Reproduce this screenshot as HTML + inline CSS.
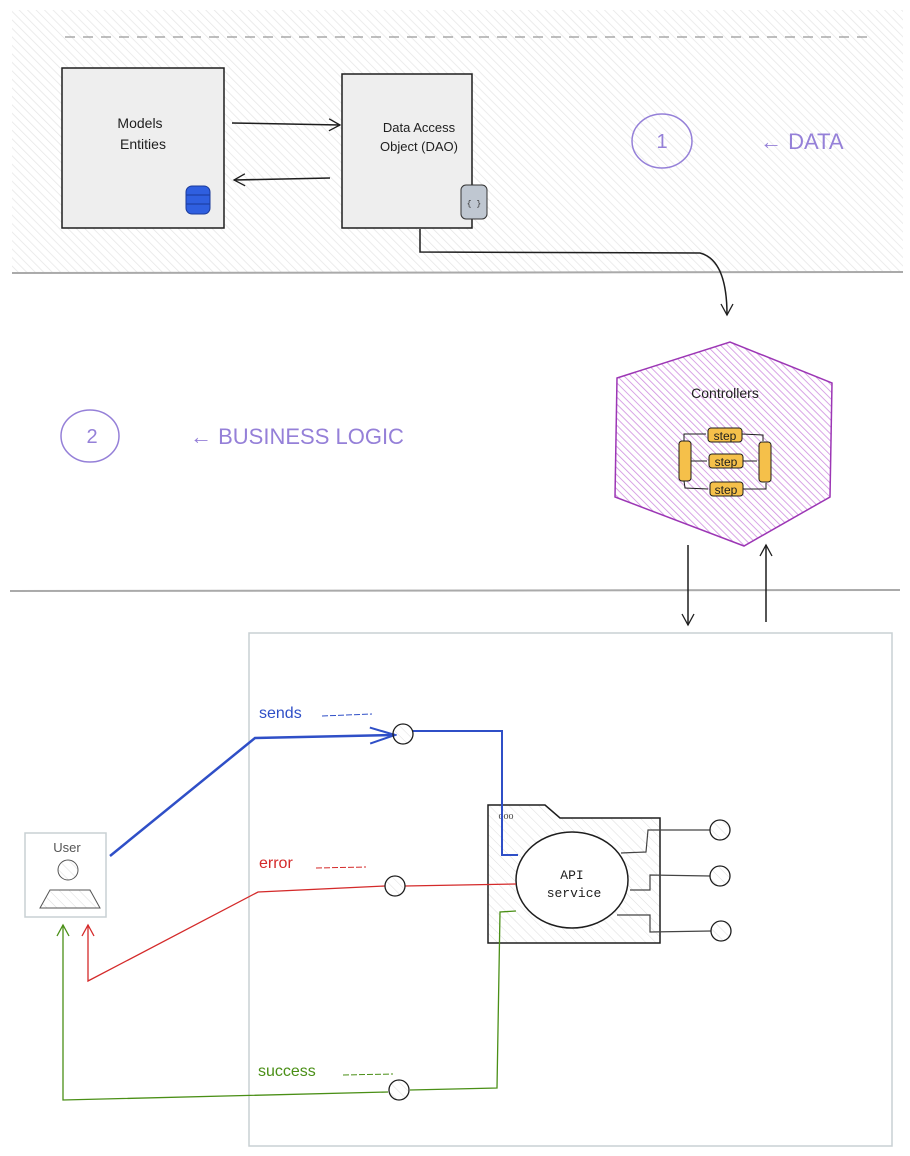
<!DOCTYPE html>
<html><head><meta charset="utf-8"><style>
html,body{margin:0;padding:0;background:#fff}
svg{display:block}
.h{font-family:"Comic Sans MS","Liberation Sans",sans-serif}
</style></head><body>
<svg width="910" height="1156" viewBox="0 0 910 1156" xmlns="http://www.w3.org/2000/svg">
<defs>
<pattern id="hg" width="6" height="6" patternUnits="userSpaceOnUse" patternTransform="rotate(-45)"><line x1="0" y1="0" x2="0" y2="6" stroke="#e6e6e6" stroke-width="1.5"/></pattern>
<pattern id="hp" width="5" height="5" patternUnits="userSpaceOnUse" patternTransform="rotate(-45)"><line x1="0" y1="0" x2="0" y2="5" stroke="#cf8ee0" stroke-width="1.6"/></pattern>
<pattern id="hl" width="7" height="7" patternUnits="userSpaceOnUse" patternTransform="rotate(-45)"><line x1="0" y1="0" x2="0" y2="7" stroke="#ddd" stroke-width="1"/></pattern>
<marker id="a" markerWidth="14" markerHeight="14" refX="12" refY="7" orient="auto" markerUnits="userSpaceOnUse"><path d="M1,1 L12,7 L1,13" fill="none" stroke="#1e1e1e" stroke-width="1.3"/></marker>
<marker id="ab" markerWidth="28" markerHeight="20" refX="26" refY="10" orient="auto" markerUnits="userSpaceOnUse"><path d="M1,2 L26,10 L1,18" fill="none" stroke="#2f4fc7" stroke-width="2"/></marker>
<marker id="ar" markerWidth="14" markerHeight="14" refX="12" refY="7" orient="auto" markerUnits="userSpaceOnUse"><path d="M1,1 L12,7 L1,13" fill="none" stroke="#d42a2a" stroke-width="1.3"/></marker>
<marker id="ag" markerWidth="14" markerHeight="14" refX="12" refY="7" orient="auto" markerUnits="userSpaceOnUse"><path d="M1,1 L12,7 L1,13" fill="none" stroke="#4a8f16" stroke-width="1.3"/></marker>
</defs>
<rect x="12" y="10" width="891" height="263" fill="url(#hg)"/>
<line x1="65" y1="37" x2="875" y2="37" stroke="#999" stroke-dasharray="10,8" stroke-width="1.2"/>
<line x1="12" y1="273" x2="903" y2="272" stroke="#aaa" stroke-width="2"/>
<line x1="10" y1="591" x2="900" y2="590" stroke="#aaa" stroke-width="2"/>
<rect x="62" y="68" width="162" height="160" fill="#eee" stroke="#1e1e1e" stroke-width="1.5"/>
<text class="h" x="140" y="128" font-size="14" text-anchor="middle" fill="#1e1e1e">Models</text>
<text class="h" x="143" y="149" font-size="14" text-anchor="middle" fill="#1e1e1e">Entities</text>
<g fill="#2f5fe0" stroke="#1a3a9a"><rect x="186" y="186" width="24" height="28" rx="6"/><line x1="186" y1="195" x2="210" y2="195"/><line x1="186" y1="204" x2="210" y2="204"/></g>
<rect x="342" y="74" width="130" height="154" fill="#eee" stroke="#1e1e1e" stroke-width="1.5"/>
<text class="h" x="419" y="132" font-size="13" text-anchor="middle" fill="#1e1e1e">Data Access</text>
<text class="h" x="419" y="151" font-size="13" text-anchor="middle" fill="#1e1e1e">Object (DAO)</text>
<rect x="461" y="185" width="26" height="34" rx="5" fill="#bfc7d1" stroke="#333"/><text x="474" y="206" font-size="8" text-anchor="middle" fill="#333" font-family="Liberation Mono">{ }</text>
<path d="M232,123 L340,125" stroke="#1e1e1e" stroke-width="1.5" fill="none" marker-end="url(#a)"/>
<path d="M330,178 L234,180" stroke="#1e1e1e" stroke-width="1.5" fill="none" marker-end="url(#a)"/>
<path d="M420,229 L420,252 L700,253 Q727,260 727,315" stroke="#1e1e1e" stroke-width="1.5" fill="none" marker-end="url(#a)"/>
<ellipse cx="662" cy="141" rx="30" ry="27" fill="none" stroke="#9580d8" stroke-width="1.5"/>
<text class="h" x="662" y="148" font-size="20" text-anchor="middle" fill="#9580d8">1</text>
<text class="h" x="760" y="149" font-size="22" fill="#9580d8">← DATA</text>
<ellipse cx="90" cy="436" rx="29" ry="26" fill="none" stroke="#9580d8" stroke-width="1.5"/>
<text class="h" x="92" y="443" font-size="20" text-anchor="middle" fill="#9580d8">2</text>
<text class="h" x="190" y="444" font-size="22" fill="#9580d8">← BUSINESS LOGIC</text>
<polygon points="617,378 730,342 832,383 830,497 744,546 615,497" fill="url(#hp)" stroke="#9c36b5" stroke-width="1.5"/>
<text class="h" x="725" y="398" font-size="14" text-anchor="middle" fill="#1e1e1e">Controllers</text>
<g stroke="#1e1e1e" stroke-width="1" fill="#f5c04a">
<rect x="708" y="428" width="34" height="14" rx="3"/><rect x="709" y="454" width="34" height="14" rx="3"/><rect x="710" y="482" width="33" height="14" rx="3"/>
<rect x="679" y="441" width="12" height="40" rx="3"/><rect x="759" y="442" width="12" height="40" rx="3"/>
</g>
<g font-size="12" fill="#1e1e1e" class="h" text-anchor="middle"><text x="725" y="440">step</text><text x="726" y="466">step</text><text x="726" y="494">step</text></g>
<g stroke="#1e1e1e" fill="none" stroke-width="1"><path d="M684,441 L684,434 L706,434"/><path d="M691,461 L707,461"/><path d="M684,481 L685,488 L708,489"/><path d="M742,434 L763,435 L763,441"/><path d="M743,461 L757,461"/><path d="M743,489 L766,489 L766,483"/></g>
<line x1="688" y1="545" x2="688" y2="625" stroke="#1e1e1e" stroke-width="1.5" marker-end="url(#a)"/>
<line x1="766" y1="622" x2="766" y2="545" stroke="#1e1e1e" stroke-width="1.5" marker-end="url(#a)"/>
<rect x="249" y="633" width="643" height="513" fill="none" stroke="#c8d0d4" stroke-width="1.5"/>
<rect x="25" y="833" width="81" height="84" fill="none" stroke="#c8d0d4" stroke-width="1.5"/>
<text class="h" x="67" y="852" font-size="13" text-anchor="middle" fill="#555">User</text>
<circle cx="68" cy="870" r="10" fill="url(#hl)" stroke="#555"/>
<path d="M50,890 L90,890 L100,908 L40,908 Z" fill="url(#hl)" stroke="#555"/>
<path d="M488,805 L545,805 L560,818 L660,818 L660,943 L488,943 Z" fill="url(#hl)" stroke="#1e1e1e" stroke-width="1.5"/>
<text x="506" y="819" font-size="10" text-anchor="middle" fill="#444">ooo</text>
<ellipse cx="572" cy="880" rx="56" ry="48" fill="#fff" stroke="#1e1e1e" stroke-width="1.5"/>
<text x="572" y="879" font-size="13" text-anchor="middle" font-family="Liberation Mono" fill="#1e1e1e">API</text>
<text x="574" y="897" font-size="13" text-anchor="middle" font-family="Liberation Mono" fill="#1e1e1e">service</text>
<g stroke="#444" fill="none" stroke-width="1.2">
<path d="M621,853 L646,852 L648,830 L710,830"/><path d="M630,890 L650,890 L650,875 L710,876"/><path d="M617,915 L650,915 L650,932 L711,931"/></g>
<g fill="url(#hl)" stroke="#1e1e1e" stroke-width="1.3"><circle cx="720" cy="830" r="10"/><circle cx="720" cy="876" r="10"/><circle cx="721" cy="931" r="10"/></g>
<path d="M110,856 L255,738 L395,735" stroke="#2f4fc7" stroke-width="2.5" fill="none" marker-end="url(#ab)"/>
<path d="M413,731 L502,731 L502,855 L518,855" stroke="#2f4fc7" stroke-width="2" fill="none"/>
<text class="h" x="259" y="718" font-size="16" fill="#2f4fc7">sends</text>
<path d="M322,716 L372,714" stroke="#2f4fc7" stroke-dasharray="6,2"/>
<path d="M405,886 L516,884" stroke="#d42a2a" stroke-width="1.3"/>
<path d="M385,886 L258,892 L88,981 L88,925" stroke="#d42a2a" stroke-width="1.3" fill="none" marker-end="url(#ar)"/>
<text class="h" x="259" y="868" font-size="16" fill="#d42a2a">error</text>
<path d="M316,868 L366,867" stroke="#d42a2a" stroke-dasharray="6,2"/>
<path d="M410,1090 L497,1088 L500,912 L516,911" stroke="#4a8f16" stroke-width="1.3" fill="none"/>
<path d="M388,1092 L63,1100 L63,925" stroke="#4a8f16" stroke-width="1.3" fill="none" marker-end="url(#ag)"/>
<text class="h" x="258" y="1076" font-size="16" fill="#4a8f16">success</text>
<path d="M343,1075 L393,1074" stroke="#4a8f16" stroke-dasharray="6,2"/>
<g fill="url(#hl)" stroke="#1e1e1e" stroke-width="1.3"><circle cx="403" cy="734" r="10"/><circle cx="395" cy="886" r="10"/><circle cx="399" cy="1090" r="10"/></g>
</svg>
</body></html>
